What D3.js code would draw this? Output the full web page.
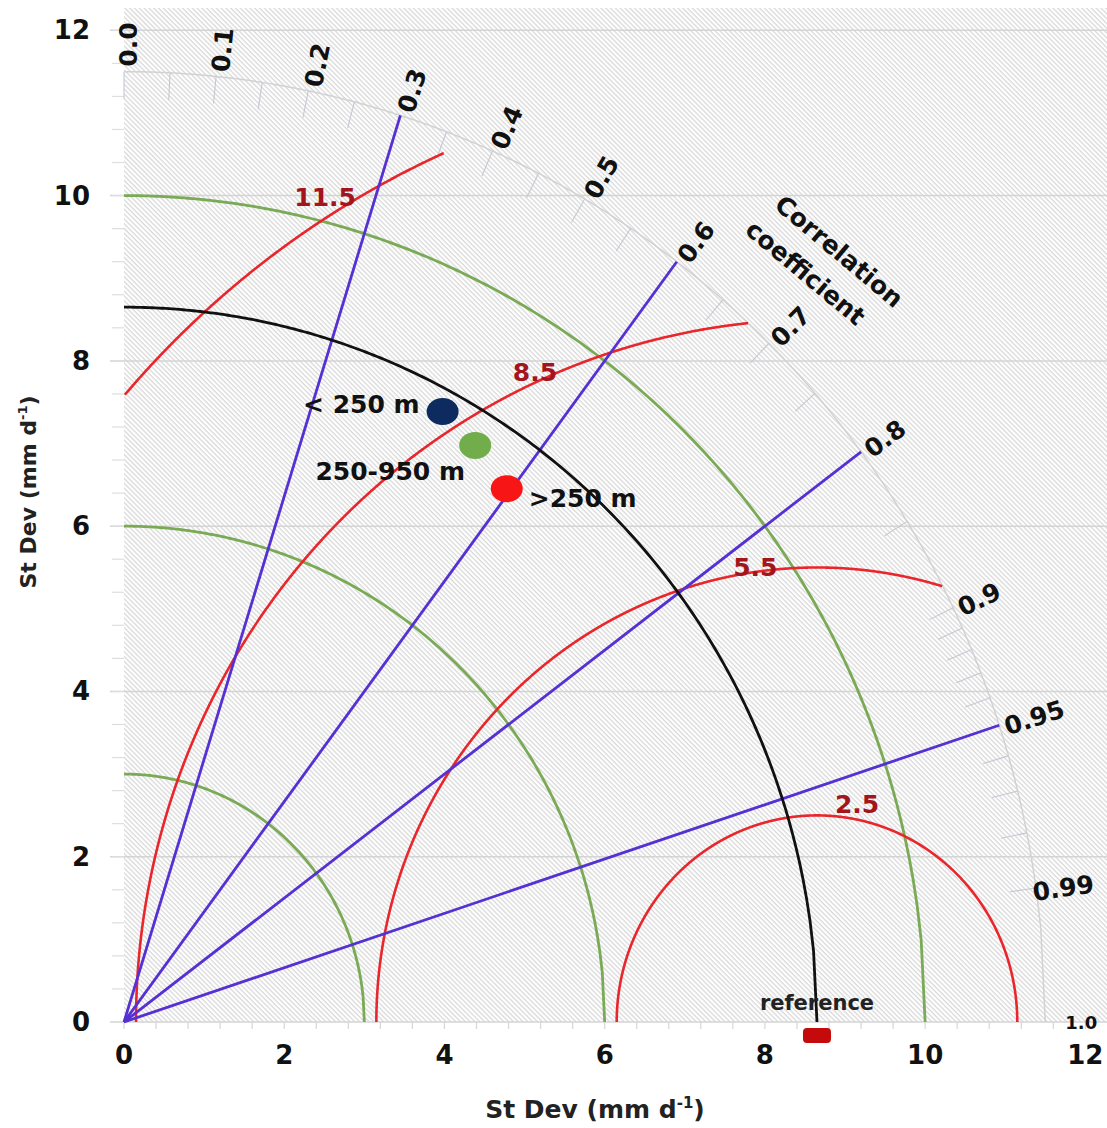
<!DOCTYPE html>
<html>
<head>
<meta charset="utf-8">
<script src="https://cdn.jsdelivr.net/npm/d3@7"></script>
<style>
  body { margin: 0; background: #fff; }
  text { font-family: "DejaVu Sans", sans-serif; font-weight: bold; }
</style>
</head>
<body>
<svg id="chart" width="1107" height="1128"></svg>
<script>
// ---- data ----
var stdTicks = [0, 2, 4, 6, 8, 10, 12];
var refStd = 8.65;                       // reference (observed) st dev
var stdArcs = [3, 6, 10];                // green st dev circles
var rmsArcs = [2.5, 5.5, 8.5, 11.5];     // red centred RMS difference circles
var rmsText = ["2.5", "5.5", "8.5", "11.5"];
var corrLines = [0.3, 0.6, 0.8, 0.95];
var corrLabelValues = [0, 0.1, 0.2, 0.3, 0.4, 0.5, 0.6, 0.7, 0.8, 0.9, 0.95, 0.99];
var corrLabelText = ["0.0", "0.1", "0.2", "0.3", "0.4", "0.5", "0.6", "0.7", "0.8", "0.9", "0.95", "0.99"];
var corrTickValues = [0, 0.05, 0.1, 0.15, 0.2, 0.25, 0.3, 0.35, 0.4, 0.45, 0.5, 0.55, 0.6, 0.65,
  0.7, 0.75, 0.8, 0.85, 0.9, 0.91, 0.92, 0.93, 0.94, 0.95, 0.96, 0.97, 0.98, 0.99];
var modelNames = ["< 250 m", "250-950 m", ">250 m"];
var modelStd = [8.39, 8.24, 8.03];
var modelCorr = [0.474, 0.532, 0.595];

// ---- layout / style ----
var outerR = 11.5, tickLen = 0.33;
var rmsClip = [11.5, 11.5, 11.5, 11.25];     // where each red arc stops
var rmsLabelX = [9.15, 7.88, 5.13, 2.51];     // where the label sits along the arc
var rmsLabelLift = [7, -4, 2, 12];
var modelColors = ["#0e2b5f", "#72ad4c", "#f71515"];
var blue = "#5530d2", red = "#e8262b", green = "#7aaa55", darkRed = "#a3151c";

var svg = d3.select("#chart");

var x = d3.scaleLinear().domain([0, 12.27]).range([124, 1107]);
var y = d3.scaleLinear().domain([0, 12.27]).range([1022, 8]);

var line = d3.line().x(function(d) { return x(d[0]); }).y(function(d) { return y(d[1]); });

// polar point from st dev and correlation
var polar = function(r, c) {
  return [r * c, r * Math.sqrt(1 - c * c)];
};

// hatched background
var defs = svg.append("defs");
defs.append("pattern")
  .attr("id", "hatch")
  .attr("patternUnits", "userSpaceOnUse")
  .attr("width", 3.4).attr("height", 3.4)
  .attr("patternTransform", "rotate(-45)")
  .append("line")
  .attr("x1", 1).attr("y1", 0).attr("x2", 1).attr("y2", 3.4)
  .attr("stroke", "#cdcdcd").attr("stroke-width", 1);

svg.append("rect")
  .attr("x", x(0)).attr("y", y(12.27))
  .attr("width", x(12.27) - x(0)).attr("height", y(0) - y(12.27))
  .attr("fill", "url(#hatch)");

// grid lines + minor ticks
svg.selectAll(".grid")
  .data(stdTicks)
  .enter().append("line")
  .attr("x1", x(0) - 14).attr("x2", x(12.27))
  .attr("y1", function(d) { return y(d); }).attr("y2", function(d) { return y(d); })
  .attr("stroke", "#d4d4d4").attr("stroke-width", 1.5);

var minor = d3.range(0, 12.01, 0.4);
svg.selectAll(".xminor")
  .data(minor)
  .enter().append("line")
  .attr("x1", function(d) { return x(d); }).attr("x2", function(d) { return x(d); })
  .attr("y1", y(0)).attr("y2", y(0) + 7)
  .attr("stroke", "#d6d6d6").attr("stroke-width", 1.2);
svg.selectAll(".yminor")
  .data(minor)
  .enter().append("line")
  .attr("y1", function(d) { return y(d); }).attr("y2", function(d) { return y(d); })
  .attr("x1", x(0) - 12).attr("x2", x(0))
  .attr("stroke", "#dedede").attr("stroke-width", 1.2);

// axis tick labels
svg.selectAll(".xlab")
  .data(stdTicks)
  .enter().append("text")
  .attr("x", function(d) { return x(d); })
  .attr("y", y(0) + 42)
  .attr("text-anchor", "middle")
  .attr("font-size", 26)
  .attr("fill", "#111")
  .text(function(d) { return d; });

svg.selectAll(".ylab")
  .data(stdTicks)
  .enter().append("text")
  .attr("x", 90)
  .attr("y", function(d) { return y(d) + 9; })
  .attr("text-anchor", "end")
  .attr("font-size", 26)
  .attr("fill", "#111")
  .text(function(d) { return d; });

// axis titles
var xt = svg.append("text")
  .attr("x", 595).attr("y", 1118)
  .attr("text-anchor", "middle")
  .attr("font-size", 25)
  .attr("fill", "#222");
xt.append("tspan").text("St Dev (mm d");
xt.append("tspan").attr("font-size", 15).attr("dy", -10).text("-1");
xt.append("tspan").attr("dy", 10).text(")");

var yt = svg.append("text")
  .attr("transform", "translate(36,492) rotate(-90)")
  .attr("text-anchor", "middle")
  .attr("font-size", 22)
  .attr("fill", "#222");
yt.append("tspan").text("St Dev (mm d");
yt.append("tspan").attr("font-size", 13).attr("dy", -9).text("-1");
yt.append("tspan").attr("dy", 9).text(")");

// outer correlation arc with ticks
svg.append("path")
  .datum(d3.range(0, 1.0001, 0.005).map(function(c) { return polar(outerR, 1 - c); }))
  .attr("d", line)
  .attr("fill", "none").attr("stroke", "#d2d2d2").attr("stroke-width", 1.5);

svg.selectAll(".ctick")
  .data(corrTickValues)
  .enter().append("path")
  .attr("d", function(c) { return line([polar(outerR, c), polar(outerR - tickLen, c)]); })
  .attr("stroke", "#c3c8d2").attr("stroke-width", 1.1);

svg.selectAll(".clab")
  .data(corrLabelValues)
  .enter().append("text")
  .attr("transform", function(c) {
    var p = polar(c >= 0.99 ? 11.45 : 11.56, c);
    var ang = Math.acos(c) * 180 / Math.PI;
    return "translate(" + x(p[0]) + "," + y(p[1]) + ") rotate(" + (-ang) + ")";
  })
  .attr("dy", "0.5em")
  .attr("font-size", 25)
  .attr("fill", "#111")
  .text(function(d, i) { return corrLabelText[i]; });

svg.append("text")
  .attr("x", x(11.75)).attr("y", y(0) + 7)
  .attr("font-size", 18)
  .attr("fill", "#111")
  .text("1.0");

var cc = svg.append("g").attr("transform", "translate(818,258) rotate(40)");
cc.append("text").attr("x", 12).attr("y", -10).attr("text-anchor", "middle")
  .attr("font-size", 25).attr("fill", "#111").text("Correlation");
cc.append("text").attr("x", 0).attr("y", 28).attr("text-anchor", "middle")
  .attr("font-size", 25).attr("fill", "#111").text("coefficient");

// green st dev circles
svg.selectAll(".sd")
  .data(stdArcs)
  .enter().append("path")
  .attr("d", function(r) {
    return line(d3.range(0, 1.0001, 0.005).map(function(c) { return polar(r, 1 - c); }));
  })
  .attr("fill", "none").attr("stroke", green).attr("stroke-width", 2.8);

// red RMS circles around reference
svg.selectAll(".rms")
  .data(rmsArcs)
  .enter().append("path")
  .attr("d", function(R, i) {
    var pts = d3.range(0, 180.001, 0.1).map(function(deg) {
      var a = deg * Math.PI / 180;
      return [refStd + R * Math.cos(a), R * Math.sin(a)];
    }).filter(function(p) {
      return p[0] >= 0 && Math.hypot(p[0], p[1]) <= rmsClip[i];
    });
    return line(pts);
  })
  .attr("fill", "none").attr("stroke", red).attr("stroke-width", 2.6);

svg.selectAll(".rmslab")
  .data(rmsArcs)
  .enter().append("text")
  .attr("x", function(R, i) { return x(rmsLabelX[i]); })
  .attr("y", function(R, i) {
    var dx = rmsLabelX[i] - refStd;
    return y(Math.sqrt(R * R - dx * dx)) - rmsLabelLift[i];
  })
  .attr("text-anchor", "middle")
  .attr("font-size", 25)
  .attr("fill", darkRed)
  .text(function(d, i) { return rmsText[i]; });

// correlation rays
svg.selectAll(".ray")
  .data(corrLines)
  .enter().append("path")
  .attr("d", function(c) { return line([[0, 0], polar(outerR, c)]); })
  .attr("stroke", blue).attr("stroke-width", 2.8);

// reference st dev arc
svg.append("path")
  .datum(d3.range(0, 1.0001, 0.005).map(function(c) { return polar(refStd, 1 - c); }))
  .attr("d", line)
  .attr("fill", "none").attr("stroke", "#111").attr("stroke-width", 2.8);

// reference marker
svg.append("rect")
  .attr("x", x(refStd) - 14).attr("y", y(0) + 6)
  .attr("width", 28).attr("height", 15).attr("rx", 4)
  .attr("fill", "#c40a0a");
svg.append("text")
  .attr("x", x(refStd)).attr("y", y(0) - 12)
  .attr("text-anchor", "middle")
  .attr("font-size", 21)
  .attr("fill", "#222")
  .text("reference");

// model points
var models = modelNames.map(function(n, i) {
  var p = polar(modelStd[i], modelCorr[i]);
  return { name: n, x: p[0], y: p[1], color: modelColors[i] };
});

svg.selectAll(".pt")
  .data(models)
  .enter().append("ellipse")
  .attr("cx", function(d) { return x(d.x); })
  .attr("cy", function(d) { return y(d.y); })
  .attr("rx", 16).attr("ry", 13.5)
  .attr("fill", function(d) { return d.color; });

// label placement around each point
var labelPos = [
  { dx: -23, dy: 2, anchor: "end" },
  { dx: -85, dy: 35, anchor: "middle" },
  { dx: 22, dy: 18, anchor: "start" }
];
svg.selectAll(".ptlab")
  .data(models)
  .enter().append("text")
  .attr("x", function(d, i) { return x(d.x) + labelPos[i].dx; })
  .attr("y", function(d, i) { return y(d.y) + labelPos[i].dy; })
  .attr("text-anchor", function(d, i) { return labelPos[i].anchor; })
  .attr("font-size", 25)
  .attr("fill", "#111")
  .text(function(d) { return d.name; });
</script>
</body>
</html>
